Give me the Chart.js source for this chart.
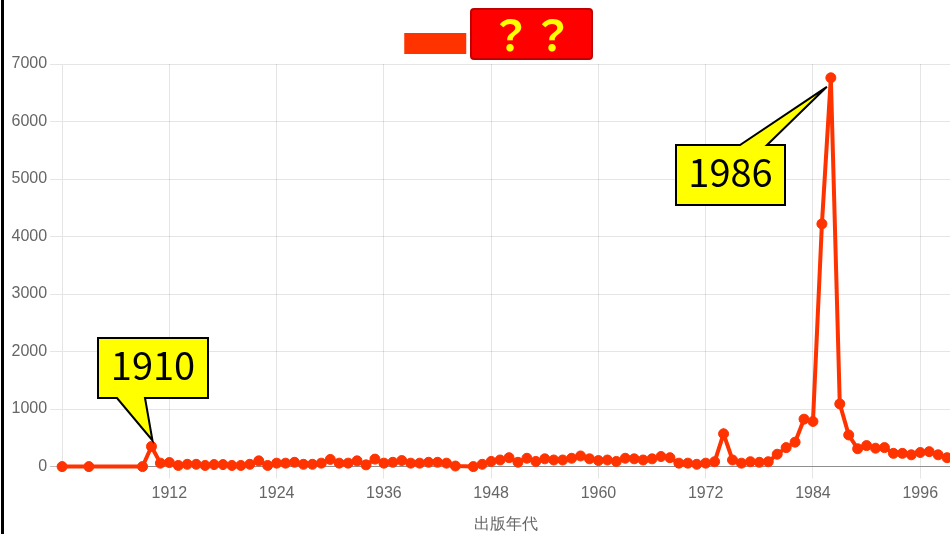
<!DOCTYPE html>
<html lang="ja">
<head>
<meta charset="utf-8">
<title>出版年代</title>
<script src="https://cdn.jsdelivr.net/npm/chart.js@4.4.1/dist/chart.umd.min.js"></script>
<style>
    html, body { margin: 0; padding: 0; background: #fff; overflow: hidden; }
    #wrap { position: relative; width: 950px; height: 534px; }
    #edge { position: absolute; left: 1px; top: 0; width: 3px; height: 534px; background: #000; }
</style>
</head>
<body>
<div id="wrap">
    <canvas id="pubChart"></canvas>
    <div id="edge"></div>
</div>

<script>
// =============================================================
// DATA
// =============================================================
const seriesLabel = "ハレー彗星";
const axisTitle   = "出版年代";

const years = [
    1900, 1903, 1909, 1910, 1911, 1912, 1913, 1914, 1915, 1916,
    1917, 1918, 1919, 1920, 1921, 1922, 1923, 1924, 1925, 1926,
    1927, 1928, 1929, 1930, 1931, 1932, 1933, 1934, 1935, 1936,
    1937, 1938, 1939, 1940, 1941, 1942, 1943, 1944, 1946, 1947,
    1948, 1949, 1950, 1951, 1952, 1953, 1954, 1955, 1956, 1957,
    1958, 1959, 1960, 1961, 1962, 1963, 1964, 1965, 1966, 1967,
    1968, 1969, 1970, 1971, 1972, 1973, 1974, 1975, 1976, 1977,
    1978, 1979, 1980, 1981, 1982, 1983, 1984, 1985, 1986, 1987,
    1988, 1989, 1990, 1991, 1992, 1993, 1994, 1995, 1996, 1997,
    1998, 1999, 2000
];

const counts = [
       0,    0,    0,  350,   60,   70,   20,   40,   40,   20,
      35,   35,   20,   20,   40,  100,   20,   60,   60,   75,
      40,   40,   60,  125,   60,   60,  100,   30,  130,   60,
      75,  105,   60,   60,   75,   75,   60,   10,    0,   40,
      90,  115,  155,   75,  145,   90,  135,  115,  115,  145,
     185,  135,  105,  115,   90,  145,  135,  115,  135,  175,
     155,   60,   60,   40,   60,   85,  570,  115,   60,   85,
      75,   85,  215,  330,  425,  825,  785, 4220, 6760, 1090,
     550,  310,  365,  320,  330,  230,  230,  205,  245,  260,
     205,  155,  130
];

const xTickYears = [1912, 1924, 1936, 1948, 1960, 1972, 1984, 1996];
const yTickStep  = 1000;
const yMax       = 7000;

const calloutYears = [1910, 1986];
const hiddenText   = "？？";



// =============================================================
// ANNOTATIONS (speech bubbles + cover box over the legend text)
// =============================================================
const bubbles = {
    1910: { box: [98, 338, 208, 398], side: "bottom", base: [117, 145], dx: 1,  dy: -6 },
    1986: { box: [676, 145, 785, 205], side: "top",   base: [740, 767], dx: -4, dy: 9 }
};

function bubblePath(ctx, b, tipX, tipY) {
    const [l, t, r, btm] = b.box;
    const [b1, b2] = b.base;
    ctx.beginPath();
    ctx.moveTo(l, t);
    if (b.side === "top") {
        ctx.lineTo(b1, t);
        ctx.lineTo(tipX, tipY);
        ctx.lineTo(b2, t);
    }
    ctx.lineTo(r, t);
    ctx.lineTo(r, btm);
    if (b.side === "bottom") {
        ctx.lineTo(b2, btm);
        ctx.lineTo(tipX, tipY);
        ctx.lineTo(b1, btm);
    }
    ctx.lineTo(l, btm);
    ctx.closePath();
}

const annotationPlugin = {
    id: "annotations",
    afterDraw(chart) {
        const { ctx } = chart;
        const xs = chart.scales.x;
        const ys = chart.scales.y;

        ctx.save();

        // callouts pointing at the two peaks
        calloutYears.forEach(yr => {
            const b    = bubbles[yr];
            const v    = counts[years.indexOf(yr)];
            const tipX = xs.getPixelForValue(yr) + b.dx;
            const tipY = ys.getPixelForValue(v) + b.dy;

            bubblePath(ctx, b, tipX, tipY);
            ctx.fillStyle   = "#ffff00";
            ctx.strokeStyle = "#000";
            ctx.lineWidth   = 2;
            ctx.lineJoin    = "miter";
            ctx.fill();
            ctx.stroke();

            ctx.fillStyle    = "#000";
            ctx.font         = '38px "Noto Sans CJK JP", "Noto Sans", sans-serif';
            ctx.textAlign    = "center";
            ctx.textBaseline = "middle";
            ctx.fillText(String(yr), (b.box[0] + b.box[2]) / 2, (b.box[1] + b.box[3]) / 2 - 2);
        });

        // red box hiding the legend label
        ctx.beginPath();
        ctx.roundRect(471, 9, 121, 50, 3);
        ctx.fillStyle   = "#ff0000";
        ctx.strokeStyle = "#c00000";
        ctx.lineWidth   = 2;
        ctx.fill();
        ctx.stroke();

        ctx.fillStyle    = "#ffff00";
        ctx.font         = 'bold 42px "Noto Sans CJK JP", sans-serif';
        ctx.textAlign    = "center";
        ctx.textBaseline = "middle";
        ctx.fillText(hiddenText, 531.5, 35);

        ctx.restore();
    }
};



// =============================================================
// CHART
// =============================================================
Chart.defaults.font.family = "'Helvetica Neue', Helvetica, Arial, sans-serif";
Chart.defaults.color = "#666";

new Chart(document.getElementById("pubChart"), {
    type: "line",
    data: {
        datasets: [
            {
                label: seriesLabel,
                data: years.map((yr, i) => ({ x: yr, y: counts[i] })),
                borderColor: "#ff3300",
                backgroundColor: "#ff3300",
                borderWidth: 4,
                pointRadius: 5,
                pointBorderWidth: 1,
                pointBackgroundColor: "#ff3300",
                pointBorderColor: "#ff3300",
                tension: 0,
                fill: false,
                clip: false
            }
        ]
    },
    options: {
        responsive: true,
        maintainAspectRatio: false,
        animation: false,
        events: [],
        layout: {
            autoPadding: false,
            padding: { left: 8.5, right: 0, top: 12, bottom: 0 }
        },
        plugins: {
            tooltip: { enabled: false },
            legend: {
                position: "top",
                labels: {
                    boxWidth: 62,
                    boxHeight: 21,
                    padding: 21,
                    font: { size: 16 },
                    generateLabels(chart) {
                        const items = Chart.defaults.plugins.legend.labels.generateLabels(chart);
                        items.forEach(it => { it.lineWidth = 0; });
                        return items;
                    }
                }
            }
        },
        scales: {
            x: {
                type: "linear",
                min: 1900,
                max: 1999.33,
                afterBuildTicks(scale) {
                    scale.ticks = xTickYears.map(v => ({ value: v }));
                },
                ticks: {
                    font: { size: 16 },
                    padding: 5,
                    maxRotation: 0,
                    callback: v => String(v)
                },
                grid: { color: "rgba(0,0,0,0.1)", tickLength: 12 },
                border: { color: "rgba(0,0,0,0.25)" },
                title: {
                    display: true,
                    text: axisTitle,
                    font: { size: 16 },
                    padding: { top: 7, bottom: 0 }
                }
            },
            y: {
                min: 0,
                max: yMax,
                ticks: {
                    stepSize: yTickStep,
                    font: { size: 16 },
                    padding: 3,
                    callback: v => String(v)
                },
                grid: {
                    tickLength: 12,
                    color: c => (c.tick && c.tick.value === 0) ? "rgba(0,0,0,0.25)" : "rgba(0,0,0,0.1)"
                },
                border: { color: "rgba(0,0,0,0.1)" }
            }
        }
    },
    plugins: [annotationPlugin]
});
</script>
</body>
</html>
